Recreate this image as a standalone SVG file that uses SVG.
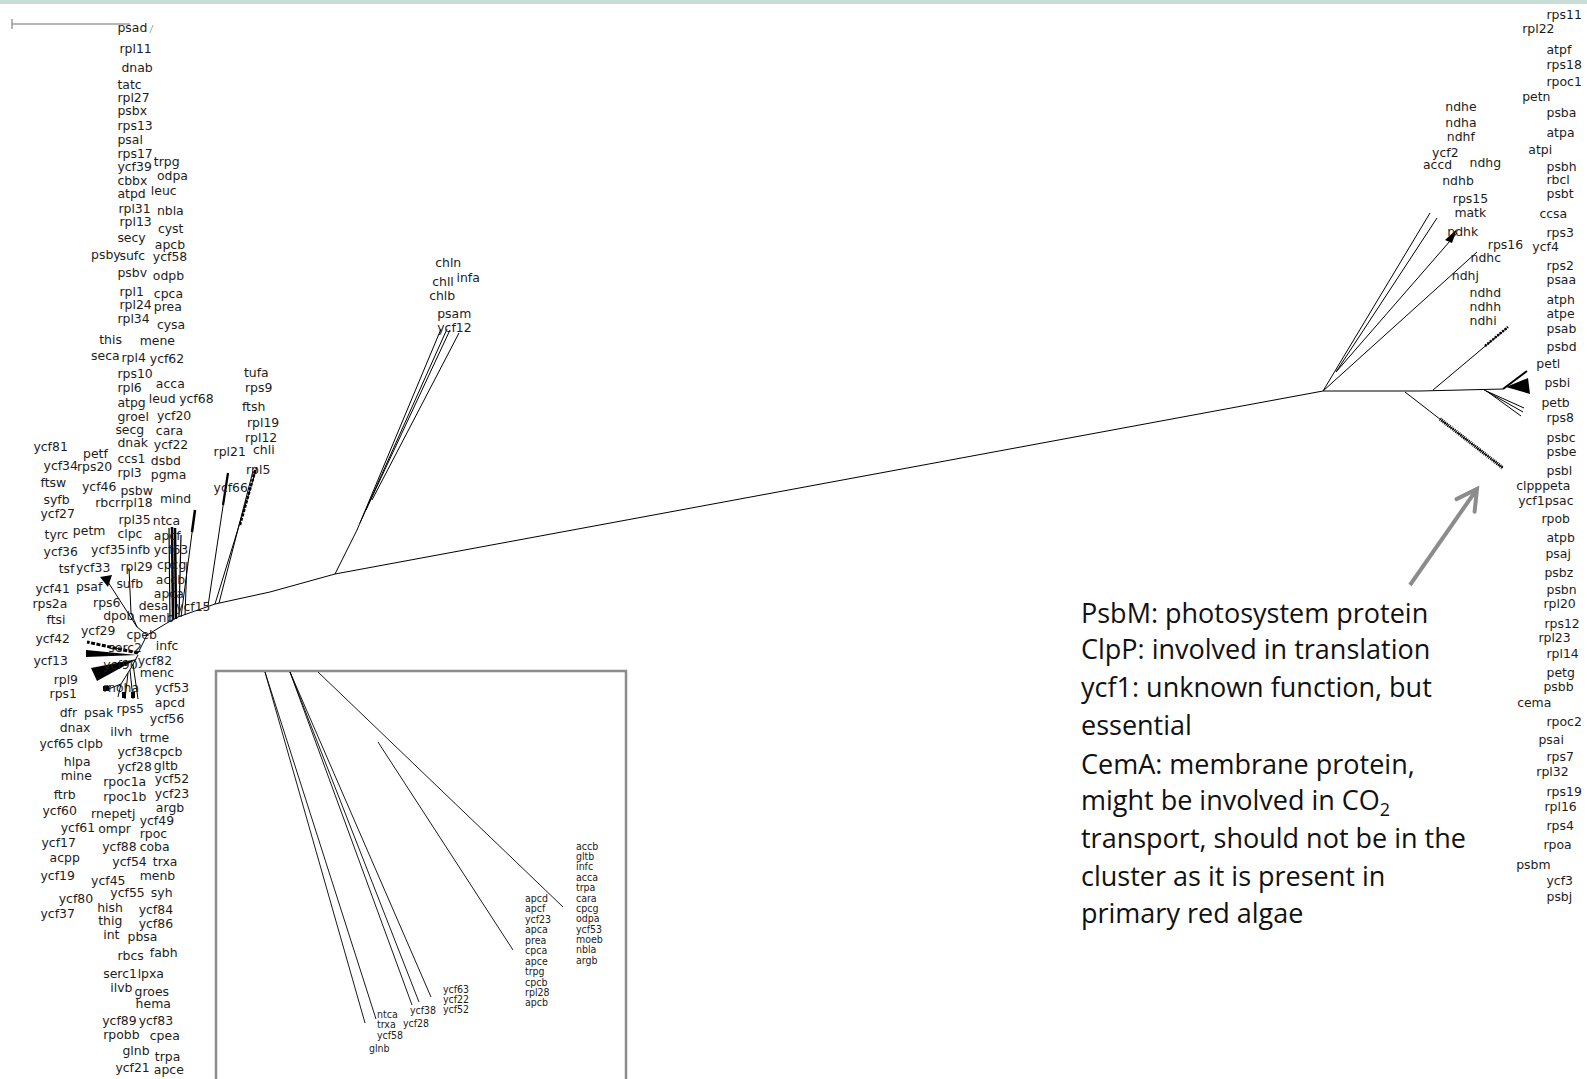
<svg xmlns="http://www.w3.org/2000/svg" width="1587" height="1079" viewBox="0 0 1587 1079">
<defs>
<style>
.l{font-family:"DejaVu Sans",sans-serif;font-size:12.3px;fill:#1c1c1c}
.s{font-family:"DejaVu Sans Condensed","DejaVu Sans",sans-serif;font-size:10.5px;fill:#1c1c1c}
.e line,.e polyline{stroke:#000;stroke-width:1;fill:none}
.e polygon,.e rect{fill:#000;stroke:none}
.ins line{stroke:#000;stroke-width:0.9}
.ann{font-family:"Open Sans",sans-serif;font-size:27px;fill:#111}
</style>
<marker id="ah" viewBox="-24 -14 28 28" markerWidth="28" markerHeight="28" refX="0" refY="0" orient="auto" markerUnits="userSpaceOnUse">
<path d="M-20,-11 L0,0 L-20,11" fill="none" stroke="#8c8c8c" stroke-width="4" stroke-linecap="round" stroke-linejoin="miter"/>
</marker>
</defs>
<rect width="1587" height="1079" fill="#fff"/>
<rect x="0" y="0" width="1587" height="4" fill="#c7ddd6"/>

<g id="scale-bar" stroke="#6e6e6e" stroke-width="1">
<line x1="12" y1="24" x2="130" y2="24"/>
<line x1="12" y1="19" x2="12" y2="29"/>
<line x1="150" y1="33" x2="153" y2="25" stroke="#aaa"/>
</g>

<g id="connectors" class="e">
<polyline points="138,653 147,635 167,623 178,617 215,604 270,592 335,574 1323,391"/>
<polyline points="147,635 137,627 131,613 129,568"/>
<line x1="137" y1="627" x2="108" y2="582"/>
<polygon points="100,577 112,575 108,587"/>
<line x1="181" y1="617" x2="195" y2="510"/>
<line x1="192" y1="532" x2="195" y2="510" style="stroke-width:2.5"/>
<line x1="170" y1="622" x2="169" y2="528" style="stroke-width:1.2"/>
<line x1="173" y1="620" x2="172" y2="527" style="stroke-width:2.5"/>
<line x1="176" y1="619" x2="175" y2="528" style="stroke-width:2.5"/>
<line x1="179" y1="617" x2="181" y2="535" style="stroke-width:1.2"/>
<line x1="185" y1="615" x2="187" y2="562"/>
<line x1="208" y1="606" x2="228" y2="473"/>
<line x1="223" y1="505" x2="228" y2="473" style="stroke-width:2.2"/>
<line x1="215" y1="604" x2="257" y2="467"/>
<line x1="219" y1="603" x2="253" y2="471"/>
<line x1="240" y1="525" x2="256" y2="468" style="stroke-width:2.5;stroke-dasharray:3 1.5"/>
<line x1="138" y1="653" x2="87" y2="642" style="stroke-width:3;stroke-dasharray:4 1.5"/>
<polygon points="86,650 86,657 137,655"/>
<polygon points="91,668 97,681 137,659"/>
<polyline points="138,655 131,668 121,684 106,690"/>
<line x1="121" y1="684" x2="118" y2="697"/>
<line x1="128" y1="673" x2="125" y2="699"/>
<line x1="130" y1="670" x2="133" y2="699"/>
<line x1="133" y1="664" x2="138" y2="699"/>
<rect x="103" y="686" width="6" height="5"/>
<rect x="122" y="692" width="4" height="6"/>
<rect x="131" y="692" width="4" height="6"/>
<line x1="335" y1="574" x2="357" y2="530"/>
<line x1="357" y1="530" x2="441" y2="329"/>
<line x1="360" y1="523" x2="447" y2="329"/>
<line x1="366" y1="510" x2="450" y2="330"/>
<line x1="372" y1="500" x2="459" y2="333"/>
<polyline points="1323,391 1420,391 1503,389"/>
<line x1="1503" y1="389" x2="1527" y2="371" style="stroke-width:2"/>
<polygon points="1506,387 1528,378 1530,394"/>
<line x1="1484" y1="390" x2="1524" y2="408"/>
<line x1="1486" y1="391" x2="1523" y2="412"/>
<line x1="1488" y1="392" x2="1521" y2="416"/>
<line x1="1433" y1="390" x2="1508" y2="327"/>
<line x1="1485" y1="346" x2="1508" y2="327" style="stroke-width:2.5;stroke-dasharray:2 1.2"/>
<line x1="1405" y1="392" x2="1503" y2="468"/>
<line x1="1440" y1="419" x2="1503" y2="468" style="stroke-width:3.5;stroke-dasharray:1 1"/>
<line x1="1323" y1="391" x2="1430" y2="213"/>
<line x1="1336" y1="372" x2="1437" y2="218"/>
<line x1="1336" y1="372" x2="1457" y2="233"/>
<polygon points="1445,240 1457,229 1452,243"/>
<line x1="1323" y1="391" x2="1477" y2="252"/>
</g>

<g id="inset">
<rect x="216" y="671" width="410" height="430" fill="none" stroke="#8c8c8c" stroke-width="2.5"/>
<g class="ins">
<line x1="265" y1="672" x2="365" y2="1023"/>
<line x1="265" y1="672" x2="376" y2="1019"/>
<line x1="290" y1="672" x2="412" y2="1005"/>
<line x1="290" y1="672" x2="419" y2="1002"/>
<line x1="290" y1="672" x2="431" y2="997"/>
<line x1="318" y1="672" x2="563" y2="907"/>
<line x1="378" y1="742" x2="513" y2="950"/>
</g>
<g class="s">
<text x="576" y="850">accb</text><text x="576" y="860">gltb</text><text x="576" y="870">infc</text><text x="576" y="881">acca</text><text x="576" y="891">trpa</text><text x="576" y="902">cara</text><text x="576" y="912">cpcg</text><text x="576" y="922">odpa</text><text x="576" y="933">ycf53</text><text x="576" y="943">moeb</text><text x="576" y="953">nbla</text><text x="576" y="964">argb</text>
<text x="525" y="902">apcd</text><text x="525" y="912">apcf</text><text x="525" y="923">ycf23</text><text x="525" y="933">apca</text><text x="525" y="944">prea</text><text x="525" y="954">cpca</text><text x="525" y="965">apce</text><text x="525" y="975">trpg</text><text x="525" y="986">cpcb</text><text x="525" y="996">rpl28</text><text x="525" y="1006">apcb</text>
<text x="443" y="993">ycf63</text><text x="443" y="1003">ycf22</text><text x="443" y="1013">ycf52</text>
<text x="410" y="1014">ycf38</text><text x="403" y="1027">ycf28</text>
<text x="377" y="1018">ntca</text><text x="377" y="1028">trxa</text><text x="377" y="1039">ycf58</text>
<text x="369" y="1052">glnb</text>
</g>
</g>

<g transform="scale(1.0121)">
<g id="left-column" class="l">
<text x="116" y="32">psad</text>
<text x="118" y="52">rpl11</text>
<text x="120" y="71">dnab</text>
<text x="116" y="88">tatc</text>
<text x="116" y="101">rpl27</text>
<text x="116" y="114">psbx</text>
<text x="116" y="128">rps13</text>
<text x="116" y="142">psal</text>
<text x="116" y="156">rps17</text>
<text x="116" y="169">ycf39</text><text x="152" y="164">trpg</text>
<text x="116" y="183">cbbx</text><text x="155" y="178">odpa</text>
<text x="116" y="196">atpd</text><text x="149" y="193">leuc</text>
<text x="117" y="210">rpl31</text><text x="155" y="212">nbla</text>
<text x="118" y="223">rpl13</text><text x="156" y="230">cyst</text>
<text x="116" y="239">secy</text><text x="153" y="246">apcb</text>
<text x="90" y="256">psby</text><text x="118" y="257">sufc</text><text x="151" y="258">ycf58</text>
<text x="116" y="274">psbv</text><text x="151" y="277">odpb</text>
<text x="118" y="292">rpl1</text><text x="152" y="294">cpca</text>
<text x="118" y="305">rpl24</text><text x="152" y="307">prea</text>
<text x="116" y="319">rpl34</text><text x="155" y="325">cysa</text>
<text x="98" y="340">this</text><text x="138" y="341">mene</text>
<text x="90" y="356">seca</text><text x="120" y="358">rpl4</text><text x="148" y="359">ycf62</text>
<text x="116" y="373">rps10</text><text x="154" y="383">acca</text>
<text x="116" y="387">rpl6</text><text x="147" y="398">leud</text><text x="177" y="398">ycf68</text>
<text x="116" y="402">atpg</text>
<text x="116" y="416">groel</text><text x="155" y="415">ycf20</text>
<text x="114" y="429">secg</text><text x="154" y="430">cara</text>
<text x="116" y="442">dnak</text><text x="152" y="444">ycf22</text>
<text x="116" y="457">ccs1</text><text x="149" y="459">dsbd</text>
<text x="116" y="471">rpl3</text><text x="149" y="473">pgma</text>
<text x="33" y="446">ycf81</text>
<text x="82" y="453">petf</text>
<text x="43" y="464">ycf34</text><text x="76" y="465">rps20</text>
<text x="40" y="481">ftsw</text>
<text x="81" y="485">ycf46</text><text x="119" y="489">psbw</text>
<text x="43" y="498">syfb</text>
<text x="94" y="501">rbcr</text><text x="119" y="501">rpl18</text>
<text x="158" y="497">mind</text>
<text x="40" y="512">ycf27</text>
<text x="117" y="518">rpl35</text><text x="151" y="519">ntca</text>
<text x="72" y="529">petm</text>
<text x="44" y="533">tyrc</text><text x="116" y="532">clpc</text><text x="152" y="534">apcf</text>
<text x="43" y="549">ycf36</text><text x="90" y="547">ycf35</text><text x="125" y="547">infb</text><text x="152" y="547">ycf63</text>
<text x="58" y="566">tsf</text><text x="75" y="565">ycf33</text><text x="119" y="564">rpl29</text><text x="155" y="562">cpcg</text>
<text x="75" y="584">psaf</text><text x="115" y="581">sufb</text><text x="154" y="577">accb</text>
<text x="35" y="586">ycf41</text><text x="152" y="591">apca</text>
<text x="32" y="601">rps2a</text><text x="92" y="600">rps6</text><text x="137" y="603">desa</text><text x="174" y="604">ycf15</text>
<text x="46" y="617">ftsi</text><text x="102" y="613">dpob</text><text x="137" y="615">menb</text>
<text x="80" y="627">ycf29</text><text x="125" y="631">cpeb</text>
<text x="35" y="635">ycf42</text><text x="154" y="642">infc</text><text x="107" y="644">serc2</text>
<text x="33" y="657">ycf13</text><text x="136" y="657">ycf82</text><text x="102" y="661">ycf90</text>
<text x="138" y="669">menc</text>
<text x="53" y="676">rpl9</text><text x="102" y="684">rnoha</text><text x="153" y="684">ycf53</text>
<text x="49" y="690">rps1</text><text x="153" y="699">apcd</text><text x="115" y="704">rps5</text>
<text x="59" y="708">dfr</text><text x="83" y="708">psak</text><text x="148" y="714">ycf56</text>
<text x="59" y="723">dnax</text><text x="109" y="727">ilvh</text><text x="138" y="733">trme</text>
<text x="39" y="739">ycf65</text><text x="76" y="739">clpb</text>
<text x="116" y="747">ycf38</text><text x="151" y="747">cpcb</text>
<text x="63" y="757">hlpa</text><text x="116" y="762">ycf28</text><text x="152" y="761">gltb</text>
<text x="60" y="771">mine</text><text x="102" y="777">rpoc1a</text><text x="153" y="774">ycf52</text>
<text x="53" y="789">ftrb</text><text x="102" y="791">rpoc1b</text><text x="153" y="788">ycf23</text>
<text x="154" y="802">argb</text>
<text x="42" y="805">ycf60</text><text x="90" y="808">rnepetj</text><text x="138" y="815">ycf49</text>
<text x="60" y="822">ycf61</text><text x="97" y="823">ompr</text><text x="138" y="828">rpoc</text>
<text x="41" y="837">ycf17</text><text x="101" y="841">ycf88</text><text x="138" y="841">coba</text>
<text x="49" y="852">acpp</text><text x="111" y="856">ycf54</text><text x="151" y="856">trxa</text>
<text x="40" y="869">ycf19</text><text x="138" y="869">menb</text><text x="90" y="874">ycf45</text>
<text x="109" y="886">ycf55</text><text x="149" y="886">syh</text>
<text x="58" y="892">ycf80</text><text x="96" y="901">hish</text><text x="137" y="903">ycf84</text>
<text x="40" y="907">ycf37</text><text x="97" y="914">thig</text><text x="137" y="917">ycf86</text>
<text x="102" y="928">int</text><text x="126" y="930">pbsa</text>
<text x="148" y="946">fabh</text><text x="116" y="949">rbcs</text>
<text x="102" y="966">serc1</text><text x="136" y="966">lpxa</text>
<text x="109" y="980">ilvb</text><text x="133" y="984">groes</text>
<text x="134" y="996">hema</text>
<text x="101" y="1013">ycf89</text><text x="137" y="1013">ycf83</text>
<text x="102" y="1027">rpobb</text><text x="148" y="1028">cpea</text>
<text x="121" y="1042">glnb</text><text x="153" y="1048">trpa</text>
<text x="114" y="1059">ycf21</text><text x="152" y="1061">apce</text>
</g>
<g id="mid-cluster" class="l">
<text x="241" y="372">tufa</text>
<text x="242" y="387">rps9</text>
<text x="239" y="406">ftsh</text>
<text x="244" y="422">rpl19</text>
<text x="242" y="437">rpl12</text>
<text x="211" y="451">rpl21</text><text x="250" y="449">chli</text>
<text x="243" y="468">rpl5</text>
<text x="211" y="486">ycf66</text>
</g>
<g id="chl-cluster" class="l">
<text x="430" y="264">chln</text>
<text x="427" y="283">chll</text><text x="451" y="279">infa</text>
<text x="424" y="296">chlb</text>
<text x="432" y="314">psam</text>
<text x="432" y="328">ycf12</text>
</g>
<g id="ndh-cluster" class="l">
<text x="1428" y="110">ndhe</text>
<text x="1428" y="125">ndha</text>
<text x="1429.5" y="139">ndhf</text>
<text x="1415" y="155">ycf2</text>
<text x="1406" y="167">accd</text><text x="1452" y="165">ndhg</text>
<text x="1425" y="183">ndhb</text>
<text x="1435.5" y="201">rps15</text>
<text x="1437" y="214">matk</text>
<text x="1430" y="233">ndhk</text>
<text x="1470" y="246">rps16</text>
<text x="1453" y="259">ndhc</text>
<text x="1434.5" y="277">ndhj</text>
<text x="1452" y="293">ndhd</text>
<text x="1452" y="307">ndhh</text>
<text x="1452" y="321">ndhi</text>
</g>
<g id="right-column" class="l">
<text x="1528" y="19">rps11</text>
<text x="1504" y="33">rpl22</text>
<text x="1528" y="53">atpf</text>
<text x="1528" y="68">rps18</text>
<text x="1528" y="85">rpoc1</text>
<text x="1504" y="100">petn</text>
<text x="1528" y="116">psba</text>
<text x="1528" y="135">atpa</text>
<text x="1510" y="152">atpi</text>
<text x="1528" y="169">psbh</text>
<text x="1528" y="182">rbcl</text>
<text x="1528" y="196">psbt</text>
<text x="1521" y="215">ccsa</text>
<text x="1528" y="234">rps3</text>
<text x="1514" y="248">ycf4</text>
<text x="1528" y="267">rps2</text>
<text x="1528" y="281">psaa</text>
<text x="1528" y="300">atph</text>
<text x="1528" y="314">atpe</text>
<text x="1528" y="329">psab</text>
<text x="1528" y="347">psbd</text>
<text x="1518" y="364">petl</text>
<text x="1526" y="382">psbi</text>
<text x="1523" y="402">petb</text>
<text x="1528" y="417">rps8</text>
<text x="1528" y="437">psbc</text>
<text x="1528" y="451">psbe</text>
<text x="1528" y="469">psbl</text>
<text x="1498" y="484">clpppeta</text>
<text x="1500" y="499">ycf1psac</text>
<text x="1523" y="517">rpob</text>
<text x="1528" y="536">atpb</text>
<text x="1527" y="551">psaj</text>
<text x="1526" y="570">psbz</text>
<text x="1528" y="587">psbn</text>
<text x="1525" y="601">rpl20</text>
<text x="1526" y="620">rps12</text>
<text x="1520" y="634">rpl23</text>
<text x="1528" y="650">rpl14</text>
<text x="1528" y="669">petg</text>
<text x="1525" y="683">psbb</text>
<text x="1499" y="699">cema</text>
<text x="1528" y="717">rpoc2</text>
<text x="1520" y="735">psai</text>
<text x="1528" y="752">rps7</text>
<text x="1518" y="767">rpl32</text>
<text x="1528" y="786">rps19</text>
<text x="1526" y="801">rpl16</text>
<text x="1528" y="820">rps4</text>
<text x="1525" y="839">rpoa</text>
<text x="1498" y="859">psbm</text>
<text x="1528" y="874">ycf3</text>
<text x="1528" y="890">psbj</text>
</g>
</g>

<g id="annotation">
<line x1="1410" y1="585" x2="1477" y2="489" stroke="#8c8c8c" stroke-width="4" marker-end="url(#ah)"/>
<g class="ann">
<text x="1081" y="623">PsbM: photosystem protein</text>
<text x="1081" y="659">ClpP: involved in translation</text>
<text x="1081" y="697">ycf1: unknown function, but</text>
<text x="1081" y="735">essential</text>
<text x="1081" y="774">CemA: membrane protein,</text>
<text x="1081" y="810">might be involved in CO<tspan dy="6" font-size="18">2</tspan></text>
<text x="1081" y="848">transport, should not be in the</text>
<text x="1081" y="886">cluster as it is present in</text>
<text x="1081" y="923">primary red algae</text>
</g>
</g>
</svg>
